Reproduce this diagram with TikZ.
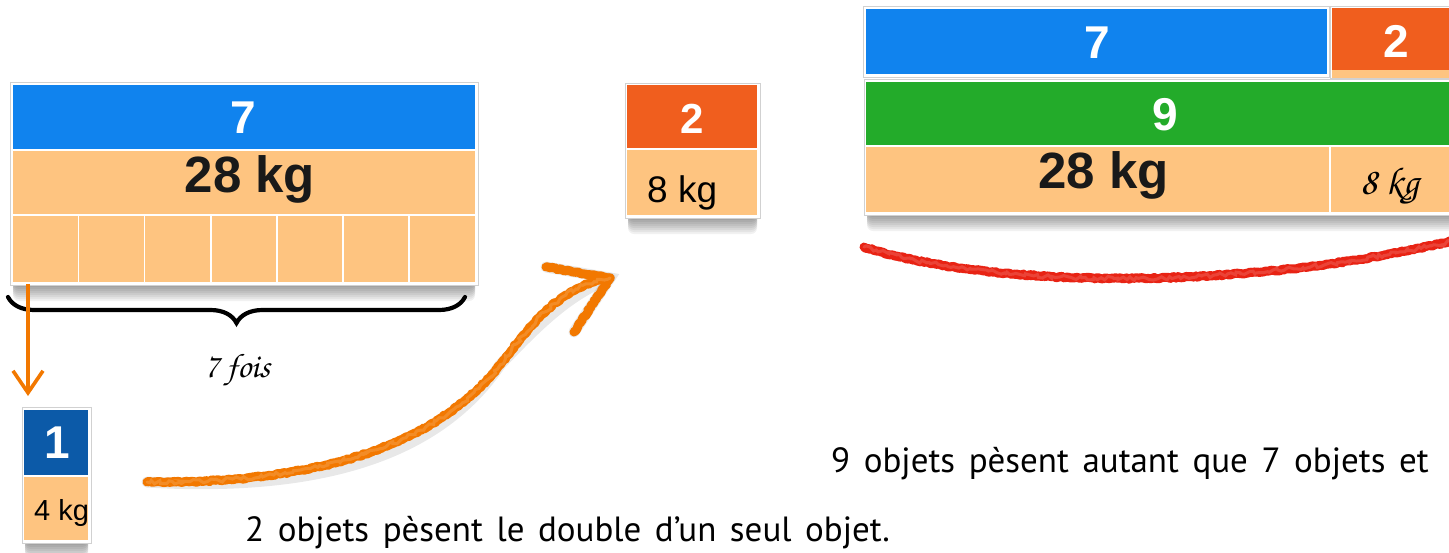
\documentclass[tikz,border=0pt]{standalone}
\usepackage[T1]{fontenc}
\usepackage{fontspec}
\setmainfont{Liberation Sans}
\newfontfamily\school{PT Sans}[WordSpace=1.45]
\usetikzlibrary{arrows.meta,decorations.pathmorphing,decorations.pathreplacing,calc}
\definecolor{cblue}{RGB}{16,131,238}
\definecolor{cpeach}{RGB}{254,196,128}
\definecolor{corange}{RGB}{240,94,30}
\definecolor{cgreen}{RGB}{35,171,42}
\definecolor{cdblue}{RGB}{12,90,168}
\definecolor{carrow}{RGB}{242,120,0}
\definecolor{cred}{RGB}{232,35,20}
\newcommand\cursivefont{\usefont{T1}{pzc}{mb}{it}}
\newcommand\boxshadow[4]{\foreach \k in {1,...,8}{\fill[black,opacity=0.055,rounded corners=6pt] (#1+3,#2+2*\k) rectangle (#3-3,#4+2*\k);}}
\begin{document}
\begin{tikzpicture}[x=1pt,y=-1pt,
  frame/.style={fill=white,draw=black!18,line width=1pt},
  bar/.style={draw=none,inner sep=0pt,outer sep=0pt},
  numlbl/.style={text=white,font=\bfseries\fontsize{46}{50}\selectfont,inner sep=0pt,anchor=base},
  kglbl/.style={text=black!90,font=\bfseries\fontsize{51}{55}\selectfont,inner sep=0pt,anchor=base},
  smallkg/.style={text=black,inner sep=0pt,anchor=base west},
  hand/.style={text=black,font=\cursivefont\fontsize{34}{40}\selectfont,inner sep=0pt,anchor=base},
  sentence/.style={text=black,font=\school\fontsize{35}{44}\selectfont,inner sep=0pt,anchor=base west},
  cellline/.style={white,line width=1.6pt},
  crayon/.style={line width=9pt,line cap=round,line join=round,decorate,decoration={random steps,segment length=2pt,amplitude=0.8pt}},
  crayontex/.style={line width=3pt,line cap=round,white,opacity=0.15,decorate,decoration={random steps,segment length=3pt,amplitude=2pt}},
  crayonshadow/.style={line width=11pt,line cap=round,black,opacity=0.09},
  bracestyle/.style={line width=4.2pt,line cap=round,decorate,decoration={brace,amplitude=26pt}}
]
\useasboundingbox (0,0) rectangle (1449,552);
\clip (0,0) rectangle (1449,552);

% ---------- left composite (7 / 28 kg / 7 cells)
\boxshadow{10}{82}{478}{285}
\node[frame,minimum width=468pt,minimum height=203pt,inner sep=0pt] (Lframe) at (244,183.5) {};
\node[bar,fill=cblue,minimum width=462pt,minimum height=64pt] (L7) at (244,117) {};
\node[numlbl] (L7t) at (243,133) {7};
\node[bar,fill=cpeach,minimum width=462pt,minimum height=63pt] (L28) at (244,182.5) {};
\node[kglbl] (L28t) at (250,192) {28 kg};
\node[bar,fill=cpeach,minimum width=462pt,minimum height=66pt] (Lcells) at (244,249) {};
\foreach \i in {0,...,5}{\draw[cellline] (78.5+66.1*\i,216) -- (78.5+66.1*\i,282);}

% brace and "7 fois"
\draw[bracestyle] (465,297) -- (8,297);
\node[hand] (fois) at (237,377) {7 fois};

% vertical orange arrow
\coordinate (vA) at (28,284);
\coordinate (vB) at (28,396);
\draw[carrow,line width=3.6pt,-{Straight Barb[length=22pt,width=30pt]}] (vA) -- (vB);

% ---------- "1" box
\boxshadow{22}{407}{91}{543}
\node[frame,minimum width=69pt,minimum height=136pt,inner sep=0pt] (Oframe) at (56.5,475) {};
\node[bar,fill=cdblue,minimum width=64pt,minimum height=65pt] (O1) at (56,442.5) {};
\node[numlbl] (O1t) at (57,458) {1};
\node[bar,fill=cpeach,minimum width=64pt,minimum height=63pt] (O4) at (56,508.5) {};
\node[smallkg,font=\fontsize{29}{32}\selectfont] (O4t) at (34,520) {4 kg};

% ---------- "2" box
\boxshadow{625}{83}{760}{218}
\node[frame,minimum width=135pt,minimum height=135pt,inner sep=0pt] (Tframe) at (692.5,150.5) {};
\node[bar,fill=corange,minimum width=130pt,minimum height=63pt] (T2) at (692,116.5) {};
\node[numlbl,font=\bfseries\fontsize{42}{46}\selectfont] (T2t) at (692,133) {2};
\node[bar,fill=cpeach,minimum width=130pt,minimum height=65pt] (T8) at (692,182.5) {};
\node[smallkg,font=\fontsize{37}{40}\selectfont] (T8t) at (647,202) {8 kg};

% ---------- big orange crayon arrow
\coordinate (cA) at (147,482);
\coordinate (cM) at (500,365);
\coordinate (cB) at (610,278);
\coordinate (hU) at (546,267);
\coordinate (hL) at (574,332);
\draw[crayonshadow,xshift=3pt,yshift=-9pt] (cA) .. controls (330,484) and (440,440) .. (cM) .. controls (545,305) and (570,285) .. (cB);
\draw[crayonshadow,xshift=3pt,yshift=-9pt] (hU) -- (cB) -- (hL);
\draw[crayon,carrow] (cA) .. controls (330,484) and (440,440) .. (cM) .. controls (545,305) and (570,285) .. (cB);
\draw[crayon,carrow] (hU) -- (cB) -- (hL);
\draw[crayontex] (cA) .. controls (330,484) and (440,440) .. (cM) .. controls (545,305) and (570,285) .. (cB);

% ---------- right composite
\boxshadow{864}{79}{1462}{215}
\node[frame,minimum width=466pt,minimum height=71pt,inner sep=0pt] (R7frame) at (1096,41.5) {};
\node[bar,fill=cblue,minimum width=461pt,minimum height=65pt] (R7) at (1096.5,41.5) {};
\node[numlbl] (R7t) at (1097,58) {7};
\node[frame,minimum width=132pt,minimum height=72pt,inner sep=0pt] (R2frame) at (1396,42) {};
\node[bar,fill=cpeach,minimum width=128pt,minimum height=70pt] (R2p) at (1396,43) {};
\node[bar,fill=corange,minimum width=128pt,minimum height=62pt] (R2) at (1396,39) {};
\node[numlbl] (R2t) at (1396,57) {2};
\node[frame,minimum width=598pt,minimum height=136pt,inner sep=0pt] (R9frame) at (1163,147) {};
\node[bar,fill=cgreen,minimum width=594pt,minimum height=63pt] (R9) at (1163,113.5) {};
\node[numlbl] (R9t) at (1165,130) {9};
\node[bar,fill=cpeach,minimum width=594pt,minimum height=65pt] (R28) at (1163,179.5) {};
\draw[cellline,line width=2pt] (1330,147) -- (1330,212);
\node[kglbl] (R28t) at (1103.5,188) {28 kg};
\node[hand,anchor=base west,font=\cursivefont\fontsize{39}{44}\selectfont] (R8t) at (1360,194) {8 kg};

% red crayon arc
\coordinate (rA) at (864,247);
\coordinate (rB) at (1456,240);
\draw[crayon,cred] (rA) .. controls (1000,290) and (1250,290) .. (rB);
\draw[crayontex] (rA) .. controls (1000,290) and (1250,290) .. (rB);

% ---------- sentences
\node[sentence] (s1) at (245,541) {2 objets pèsent le double d’un seul objet.};
\node[sentence] (s2) at (831,472) {9 objets pèsent autant que 7 objets et};
\end{tikzpicture}
\end{document}
